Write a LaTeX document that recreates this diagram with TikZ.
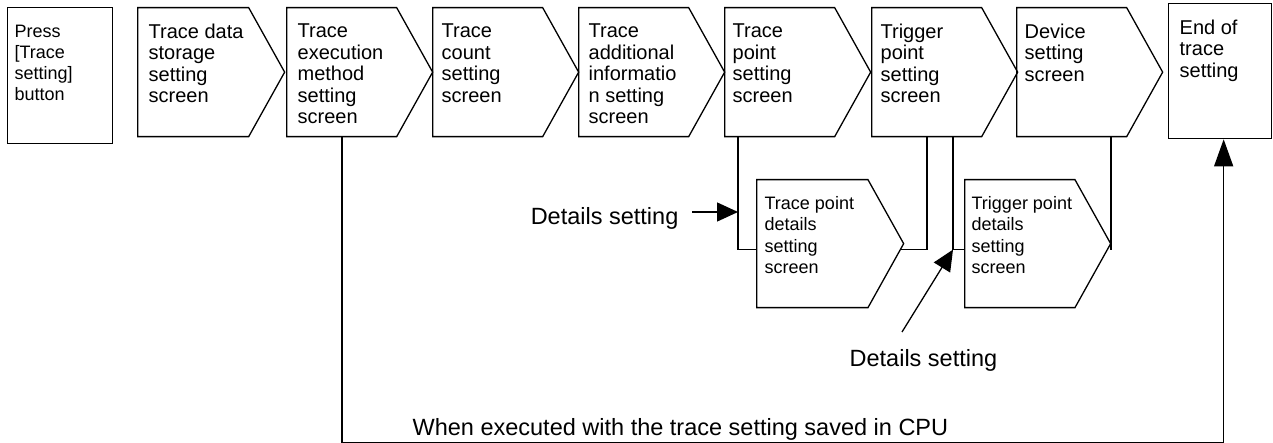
\documentclass[tikz,border=0pt]{standalone}
\usepackage{fontspec}
\setmainfont{Liberation Sans}
\usetikzlibrary{shapes.symbols,arrows.meta}
\begin{document}
\begin{tikzpicture}[
x=1pt,y=-1pt,
line width=1.3pt,
screen/.style={draw,shape=signal,signal to=east,signal pointer angle=121.7,minimum width=146pt,minimum height=129pt,inner sep=0pt,anchor=north west},
detail/.style={screen,minimum height=128pt},
plain/.style={draw,rectangle,minimum width=105pt,minimum height=136pt,inner sep=0pt,anchor=north west},
main/.style={anchor=north west,inner sep=0pt,align=left,font=\fontsize{20}{21.6}\selectfont},
small/.style={anchor=north west,inner sep=0pt,align=left,font=\fontsize{18}{21.2}\selectfont},
note/.style={inner sep=0pt,font=\fontsize{23.5}{28}\selectfont},
tip/.style={-{Triangle[length=21pt,width=19pt]}},
endtip/.style={-{Triangle[length=27pt,width=19pt]}}
]
\useasboundingbox (0,0) rectangle (1273,443);

% start and end
\node[plain] (0) at (7,7) {};
\node[small] at ([shift={(7,17)}]0.north west) {Press\\{[Trace}\\setting]\\button};
\node[plain,minimum width=103pt,minimum height=135pt] (8) at (1168,3) {};
\node[main] at ([shift={(11,16)}]8.north west) {End of\\trace\\setting};

% setting screens
\node[screen,minimum width=147pt] (1) at (137,7) {};
\node[main] at ([shift={(11,16)}]1.north west) {Trace data\\storage\\setting\\screen};
\node[screen] (2) at (286,7) {};
\node[main] at ([shift={(11,16)}]2.north west) {Trace\\execution\\method\\setting\\screen};
\node[screen] (3) at (432,7) {};
\node[main] at ([shift={(9,16)}]3.north west) {Trace\\count\\setting\\screen};
\node[screen] (4) at (578,7) {};
\node[main] at ([shift={(10,16)}]4.north west) {Trace\\additional\\informatio\\n setting\\screen};
\node[screen] (5) at (724,7) {};
\node[main] at ([shift={(8,16)}]5.north west) {Trace\\point\\setting\\screen};
\node[screen] (6) at (871,7) {};
\node[main] at ([shift={(9,16)}]6.north west) {Trigger\\point\\setting\\screen};
\node[screen] (7) at (1016,7) {};
\node[main] at ([shift={(8,16)}]7.north west) {Device\\setting\\screen};

% details screens
\node[detail,minimum width=147pt] (d1) at (756,179) {};
\node[small] at ([shift={(8,17)}]d1.north west) {Trace point\\details\\setting\\screen};
\node[detail] (d2) at (964,179) {};
\node[small] at ([shift={(7,17)}]d2.north west) {Trigger point\\details\\setting\\screen};

% connectors
\draw[endtip] ([xshift=56pt]2.south west) -- ++(0,305) -| ([xshift=3.5pt]8.south);
\draw ([xshift=14pt]5.south west) coordinate (v5) |- ([yshift=-6pt]d1.west);
\draw ([shift={(-3,6)}]d1.east) -| ([xshift=56pt]6.south west);
\draw ([xshift=82pt]6.south west) coordinate (v6) |- ([yshift=-6pt]d2.west) coordinate (h6);
\draw ([xshift=95pt]7.south west) coordinate (v7) -- (v7 |- h6);

% labels
\node[note,anchor=base east] (n1) at (679,225) {Details setting};
\draw[tip] ([shift={(13,-13)}]n1.base east) coordinate (k1) -- (k1 -| v5);
\node[note,anchor=base west] (n2) at (849,366) {Details setting};
\draw[tip] ([shift={(53,-34)}]n2.base west) -- (v6 |- h6);
\node[note,anchor=base west] (n3) at (412,435) {When executed with the trace setting saved in CPU};
\end{tikzpicture}
\end{document}
